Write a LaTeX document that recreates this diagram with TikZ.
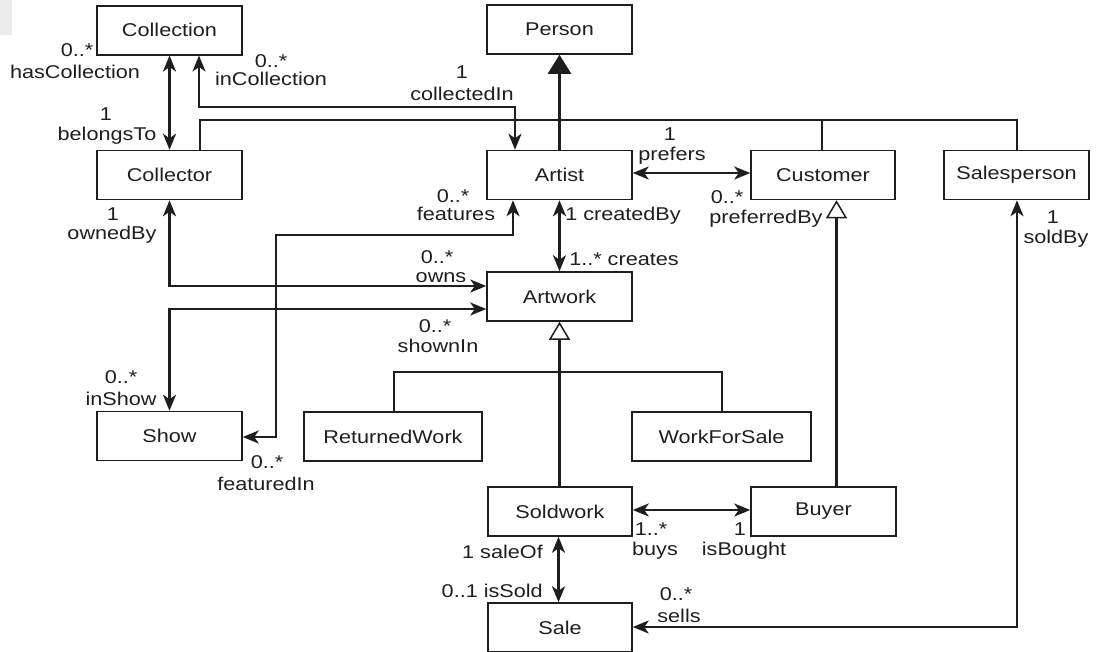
\documentclass[tikz,border=0pt]{standalone}
\usepackage{fontspec}
\setmainfont{Liberation Sans}[FakeStretch=1.17]
\usetikzlibrary{arrows.meta,calc}
\definecolor{ink}{RGB}{30,30,30}
\begin{document}
\begin{tikzpicture}[x=1pt,y=-1pt,
  box/.style={draw=ink,line width=1.5pt,minimum height=49pt,inner sep=0pt,text=ink,font=\fontsize{18.5}{20}\selectfont},
  lab/.style={anchor=base,inner sep=0pt,text=ink,font=\fontsize{18.5}{20}\selectfont},
  labE/.style={lab,anchor=base east},
  conn/.style={draw=ink,line width=2.4pt},
  both/.style={conn,{Stealth[length=16pt,width=13pt,inset=4.5pt]}-{Stealth[length=16pt,width=13pt,inset=4.5pt]}},
  inherit/.style={conn,-{Triangle[open,fill=white,length=18pt,width=21pt,line width=1.5pt]}},
  isa/.style={conn,-{Triangle[length=19pt,width=23pt]}}
]
\useasboundingbox (0,0) rectangle (1098,651);
\fill[gray!15] (0,0) rectangle (12,35);

% classes
\node[box,minimum width=145pt] (Collection)  at (169.5,30.25) {Collection};
\node[box,minimum width=145pt] (Person)      at (559.5,29.5)  {Person};
\node[box,minimum width=145pt] (Collector)   at (169.5,175)   {Collector};
\node[box,minimum width=145pt] (Artist)      at (559.5,175)   {Artist};
\node[box,minimum width=144pt] (Customer)    at (823,175)     {Customer};
\node[box,minimum width=145pt] (Salesperson) at (1016.5,175)  {Salesperson};
\node[box,minimum width=145pt] (Artwork)     at (559.5,296.5) {Artwork};
\node[box,minimum width=145pt] (Show)        at (169.5,436)   {Show};
\node[box,minimum width=178pt] (ReturnedWork) at (393,436.5)  {ReturnedWork};
\node[box,minimum width=179pt] (WorkForSale) at (721.5,436.5) {WorkForSale};
\node[box,minimum width=144pt] (Soldwork)    at (560,511.5)   {Soldwork};
\node[box,minimum width=145pt] (Buyer)       at (823.5,511.5) {Buyer};
\node[box,minimum width=144pt] (Sale)        at (560,627.5)   {Sale};

% helper coordinates
\coordinate (ci) at (300,107);
\coordinate (g)  at (559.5,120);
\coordinate (f1) at (276,235);
\coordinate (h)  at (559.5,372);

% connectors
\draw[both] (Collection.south) -- (Collector.north);
\draw[both] ($(Collection.south)+(29.5,0)$) |- (ci) -| ($(Artist.north)+(-44.5,0)$);
\draw[conn] ($(Collector.north)+(30.5,0)$) |- (g) -| ($(Salesperson.north)+(0.5,0)$);
\draw[conn] (g) -| ($(Customer.north)+(-1,0)$);
\draw[isa] (Artist.north) -- (Person.south);
\draw[both] ([yshift=2pt]Artist.east) -- ([yshift=2pt]Customer.west);
\draw[inherit] ($(Buyer.north)+(13,0)$) coordinate (b1) -- (b1 |- Customer.south);
\draw[both] ($(Salesperson.south)+(0.5,0)$) |- ([yshift=0.5pt]Sale.east);
\draw[both] (Artist.south) -- (Artwork.north);
\draw[both] ($(Artist.south)+(-46.5,0)$) |- (f1) |- ([yshift=-1pt]Show.east);
\draw[both] (Collector.south) |- ([yshift=10.5pt]Artwork.west);
\draw[both] ([yshift=-12.5pt]Artwork.west) -| (Show.north);
\draw[inherit] ($(Soldwork.north)+(-0.5,0)$) -- (Artwork.south);
\draw[conn] ($(ReturnedWork.north)+(1,0)$) |- (h) -| ($(WorkForSale.north)+(0.5,0)$);
\draw[both] ([yshift=1.5pt]Soldwork.east) -- ([yshift=1.5pt]Buyer.west);
\draw[both] ($(Soldwork.south)+(-1.5,0)$) -- ($(Sale.north)+(-1.5,0)$);

% role labels
\node[lab] (m1)  at (77,56)   {0..*};
\node[lab] (r1)  at (75,78)   {hasCollection};
\node[lab] (m2)  at (271,67)  {0..*};
\node[lab] (r2)  at (271,85)  {inCollection};
\node[lab] (m3)  at (106,120) {1};
\node[lab] (r3)  at (107,140) {belongsTo};
\node[lab] (m4)  at (462,78)  {1};
\node[lab] (r4)  at (462,100) {collectedIn};
\node[lab] (m5)  at (670,140) {1};
\node[lab] (r5)  at (672,160) {prefers};
\node[lab] (m6)  at (727,203) {0..*};
\node[lab] (r6)  at (766,223) {preferredBy};
\node[lab] (m7)  at (453,202) {0..*};
\node[lab] (r7)  at (456,220) {features};
\node[lab] (r8)  at (623,220) {1 createdBy};
\node[lab] (r9)  at (624,265) {1..* creates};
\node[lab] (m10) at (437,263) {0..*};
\node[lab] (r10) at (441,282) {owns};
\node[lab] (m11) at (435,332) {0..*};
\node[lab] (r11) at (438,352) {shownIn};
\node[lab] (m12) at (121,383) {0..*};
\node[lab] (r12) at (121,405) {inShow};
\node[lab] (m13) at (113,220) {1};
\node[lab] (r13) at (112,239) {ownedBy};
\node[lab] (m14) at (267,468) {0..*};
\node[lab] (r14) at (266,490) {featuredIn};
\node[labE] (r15) at (543,558) {1 saleOf};
\node[labE] (r16) at (543,597) {0..1 isSold};
\node[lab] (m17) at (651,535) {1..*};
\node[lab] (r17) at (655,555) {buys};
\node[lab] (m18) at (740,535) {1};
\node[lab] (r18) at (744,555) {isBought};
\node[lab] (m19) at (676,600) {0..*};
\node[lab] (r19) at (679,622) {sells};
\node[lab] (m20) at (1053,223) {1};
\node[lab] (r20) at (1056,243) {soldBy};
\end{tikzpicture}
\end{document}
